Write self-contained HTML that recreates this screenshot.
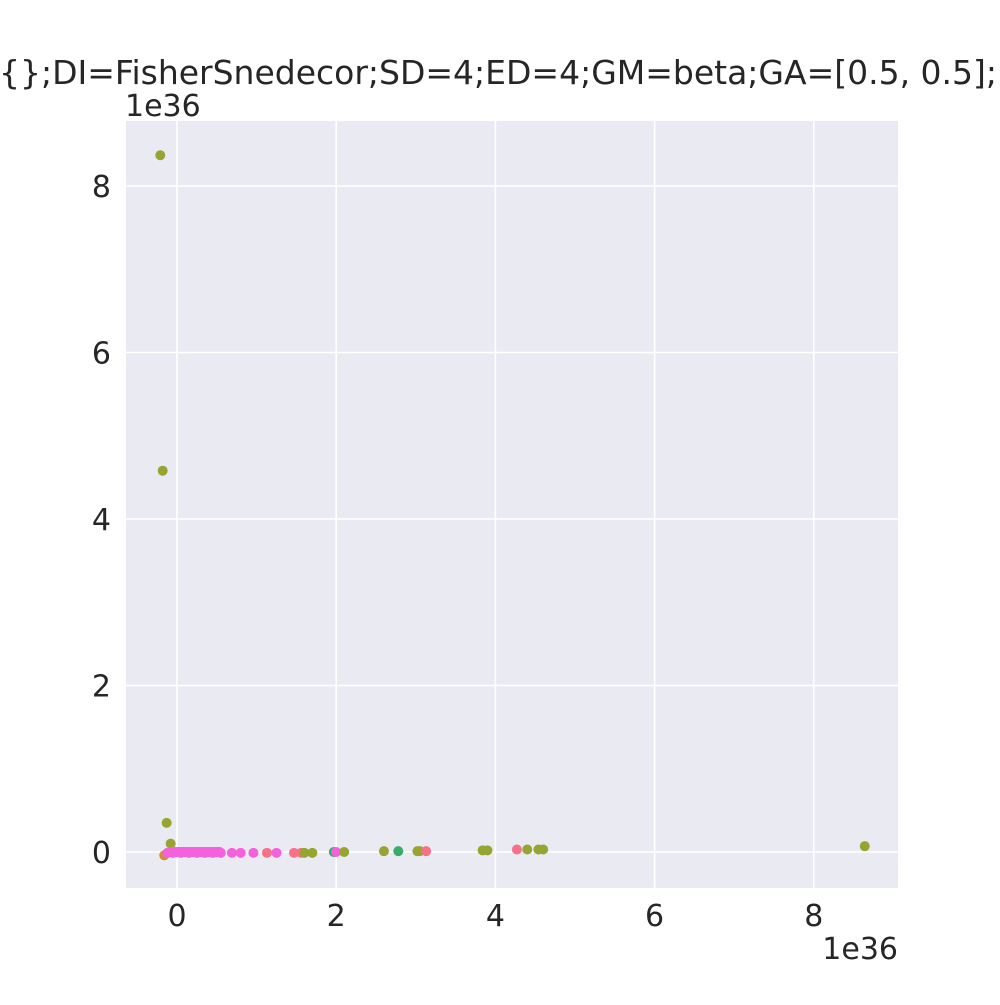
<!DOCTYPE html>
<html><head><meta charset="utf-8"><style>body{margin:0;background:#fff}svg text{font-family:"DejaVu Sans","Liberation Sans",sans-serif;fill:#262626}</style></head>
<body>
<svg id="chart" width="1000" height="1000" xmlns="http://www.w3.org/2000/svg">
<text x="498" y="84" font-size="33" text-anchor="middle">{};DI=FisherSnedecor;SD=4;ED=4;GM=beta;GA=[0.5, 0.5];</text>
<rect x="126" y="121" width="772" height="767" fill="#eaeaf2"/>
<g id="grid"></g><g id="ticks"></g><g id="points"></g>
<text x="125" y="116" font-size="30">1e36</text>
<text x="898" y="959" font-size="30" text-anchor="end">1e36</text>
</svg>
<script>
const xTicks=[0,2,4,6,8];
const yTicks=[0,2,4,6,8];
const colors={r:'#f77189',o:'#97a431',g:'#36ad6a',m:'#f561dd',y:'#d58c32'};
const seriesKeys=['o','o','o','o','o','y','m','m','m','m','m','m','m','m','m','m','m','m','r','r','r','o','o','g','m','o','o','g','o','o','r','o','o','r','o','o','o'];
const xVals=[-0.21,-0.18,-0.13,-0.08,8.64,-0.16,-0.12,-0.05,0.05,0.15,0.25,0.35,0.45,0.55,0.69,0.8,0.96,1.25,1.13,1.47,1.56,1.6,1.7,1.97,2.0,2.1,2.6,2.78,3.02,3.05,3.13,3.84,3.9,4.27,4.4,4.54,4.6];
const yVals=[8.37,4.58,0.35,0.10,0.07,-0.04,-0.01,-0.01,-0.01,-0.01,-0.01,-0.01,-0.01,-0.01,-0.01,-0.01,-0.01,-0.01,-0.01,-0.01,-0.01,-0.01,-0.01,0.0,0.0,0.0,0.01,0.01,0.01,0.01,0.01,0.02,0.02,0.03,0.03,0.03,0.03];
const X=v=>177+v*79.6, Y=v=>852-v*83.25;
const NS='http://www.w3.org/2000/svg';
const grid=document.getElementById('grid'),ticks=document.getElementById('ticks'),pts=document.getElementById('points');
xTicks.forEach(t=>{
 const l=document.createElementNS(NS,'line');
 
 
 l.setAttribute('x1',X(t));l.setAttribute('x2',X(t));l.setAttribute('y1',121);l.setAttribute('y2',888);l.setAttribute('stroke','#fff');l.setAttribute('stroke-width','1.6');grid.appendChild(l);
 const tx=document.createElementNS(NS,'text');
 
 
 tx.setAttribute('x',X(t));tx.setAttribute('y',926);tx.setAttribute('font-size','30');tx.setAttribute('text-anchor','middle');tx.textContent=t;ticks.appendChild(tx);
});
yTicks.forEach(t=>{
 const l=document.createElementNS(NS,'line');
 
 
 l.setAttribute('y1',Y(t));l.setAttribute('y2',Y(t));l.setAttribute('x1',126);l.setAttribute('x2',898);l.setAttribute('stroke','#fff');l.setAttribute('stroke-width','1.6');grid.appendChild(l);
 const tx=document.createElementNS(NS,'text');
 
 
 tx.setAttribute('x',111);tx.setAttribute('y',Y(t)+11);tx.setAttribute('font-size','30');tx.setAttribute('text-anchor','end');tx.textContent=t;ticks.appendChild(tx);
});
xVals.forEach((v,i)=>{
 const c=document.createElementNS(NS,'circle');
 
 
 c.setAttribute('cx',X(v));c.setAttribute('cy',Y(yVals[i]));c.setAttribute('r',5);c.setAttribute('fill',colors[seriesKeys[i]]);pts.appendChild(c);
});
const band=document.createElementNS(NS,'rect');


band.setAttribute('x',X(-0.14));band.setAttribute('y',Y(0)-5);band.setAttribute('width',X(0.6)-X(-0.14));band.setAttribute('height',10);band.setAttribute('rx',5);band.setAttribute('fill','#f561dd');pts.appendChild(band);
</script>
</body></html>
